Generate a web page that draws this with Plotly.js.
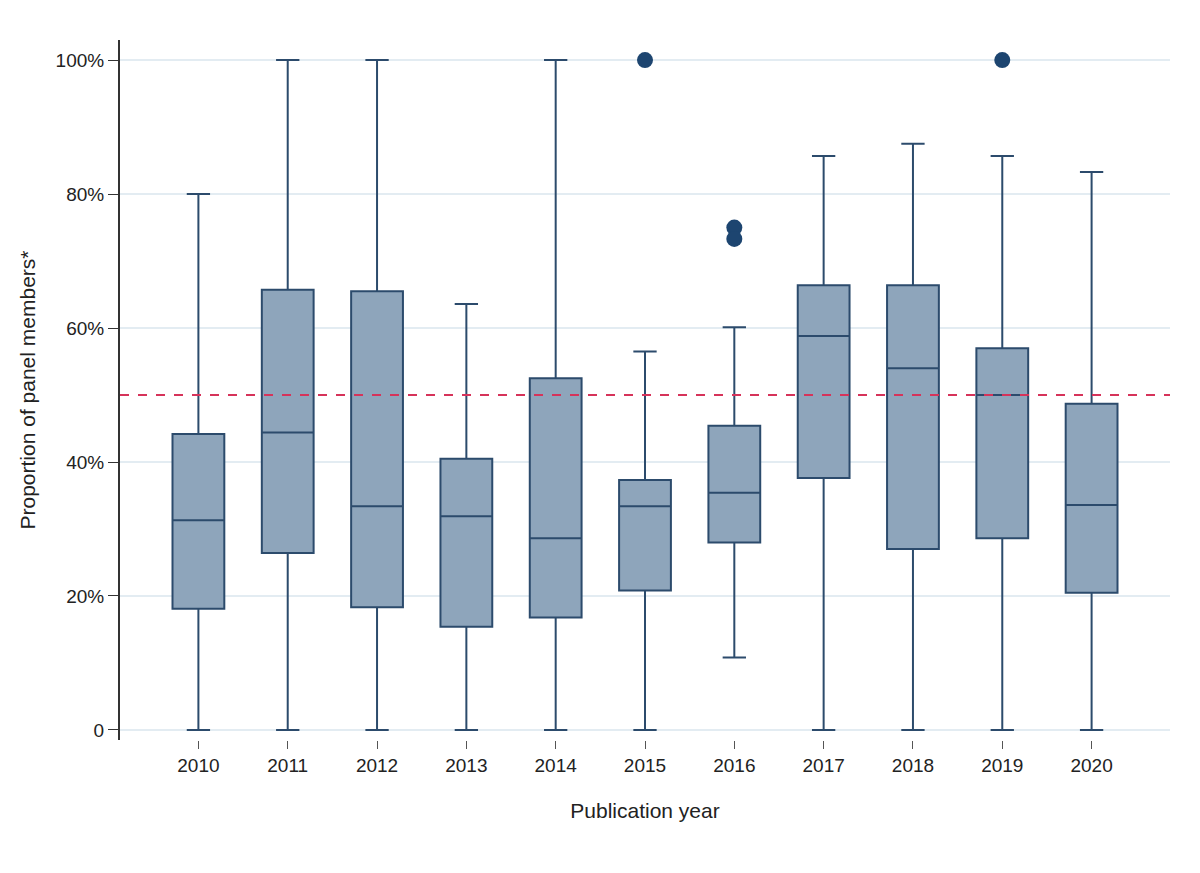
<!DOCTYPE html>
<html>
<head>
<script src="https://cdn.plot.ly/plotly-3.0.1.min.js"></script>
<style>body{margin:0;background:#fff}</style>
</head>
<body>
<div id="chart_area" style="width:1200px;height:873px"></div>
<script>
// box statistics per year (fractions)
var years = ['2010','2011','2012','2013','2014','2015','2016','2017','2018','2019','2020'];
var lowerFence = [0, 0, 0, 0, 0, 0, 0.108, 0, 0, 0, 0];
var q1 = [0.181, 0.264, 0.183, 0.154, 0.168, 0.208, 0.280, 0.376, 0.270, 0.286, 0.205];
var medians = [0.313, 0.444, 0.334, 0.319, 0.286, 0.334, 0.354, 0.588, 0.540, 0.500, 0.336];
var q3 = [0.442, 0.657, 0.655, 0.405, 0.525, 0.373, 0.454, 0.664, 0.664, 0.570, 0.487];
var upperFence = [0.80, 1.0, 1.0, 0.636, 1.0, 0.565, 0.601, 0.857, 0.875, 0.857, 0.833];

var outlierYears = ['2015', '2016', '2016', '2019'];
var outlierValues = [1.0, 0.75, 0.733, 1.0];

var tickVals = [0, 0.2, 0.4, 0.6, 0.8, 1.0];
var tickText = ['0', '20%', '40%', '60%', '80%', '100%'];

var data = [
    {
        type: 'box',
        x: years,
        lowerfence: lowerFence,
        q1: q1,
        median: medians,
        q3: q3,
        upperfence: upperFence,
        width: 0.58,
        fillcolor: '#8ea5bb',
        line: {color: '#2c4b6c', width: 2},
        whiskerwidth: 0.45,
        hoverinfo: 'none'
    },
    {
        type: 'scatter',
        mode: 'markers',
        x: outlierYears,
        y: outlierValues,
        marker: {color: '#1d4570', size: 16},
        hoverinfo: 'none'
    }
];

var layout = {
    showlegend: false,
    width: 1200,
    height: 873,
    margin: {l: 120, r: 30, t: 40, b: 133},
    paper_bgcolor: '#fff',
    plot_bgcolor: '#fff',
    font: {family: 'Liberation Sans, Arial, sans-serif', size: 19, color: '#222'},
    xaxis: {
        type: 'category',
        title: {text: 'Publication year', font: {size: 21}, standoff: 28},
        showline: false,
        showgrid: false,
        ticks: 'outside',
        ticklen: 8,
        tickcolor: '#555',
        zeroline: false
    },
    yaxis: {
        title: {text: 'Proportion of panel members*', font: {size: 21}, standoff: 14},
        range: [-0.015, 1.03],
        tickvals: tickVals,
        ticktext: tickText,
        ticks: 'outside',
        ticklen: 10,
        tickcolor: '#333',
        showline: true,
        linecolor: '#333',
        linewidth: 2,
        gridcolor: '#e3ecf2',
        gridwidth: 2,
        zeroline: false
    },
    shapes: [{
        type: 'line', xref: 'paper', x0: 0, x1: 1, yref: 'y', y0: 0.5, y1: 0.5,
        line: {color: '#d6335a', width: 2, dash: 'dash'}
    }]
};

Plotly.newPlot('chart_area', data, layout, {staticPlot: true, displayModeBar: false});
</script>
</body>
</html>
